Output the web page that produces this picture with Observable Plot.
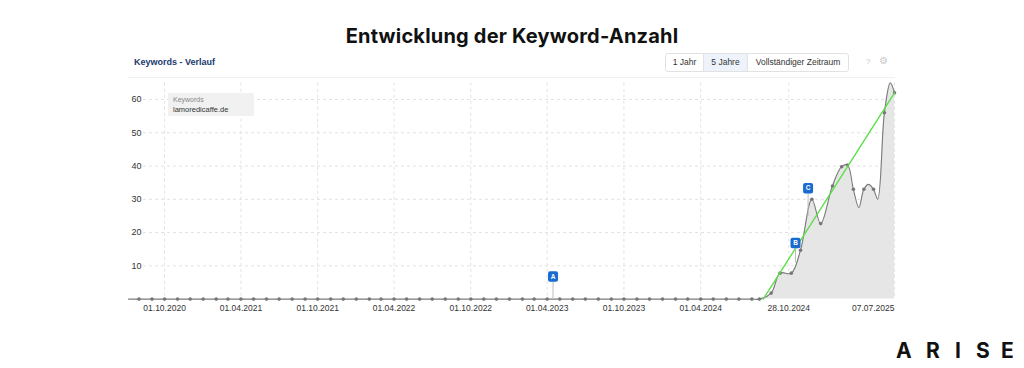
<!DOCTYPE html>
<html>
<head>
<meta charset="utf-8">
<script src="https://cdn.jsdelivr.net/npm/d3@7"></script>
<script src="https://cdn.jsdelivr.net/npm/@observablehq/plot@0.6"></script>
<style>
  body { margin: 0; background: #fff; }
  #wrap { position: relative; width: 1024px; height: 368px; overflow: hidden; font-family: "Liberation Sans", Arial, sans-serif; background: #fff; }
  #title { position: absolute; left: 0; width: 1024px; top: 25px; text-align: center; font-family: Inter, sans-serif; font-weight: 700; font-size: 20px; line-height: 22px; color: #111; letter-spacing: 0.2px; }
  #chart { position: absolute; left: 0; top: 0; }
  #head { position: absolute; left: 134px; top: 57px; font-size: 9px; font-weight: 700; color: #203a6e; line-height: 11px; }
  #sep { position: absolute; left: 128px; top: 77px; width: 767px; height: 1px; background: #f0f0f0; }
  #btns { position: absolute; left: 665px; top: 53px; height: 17px; border: 1px solid #e2e2e2; border-radius: 3px; display: flex; font-size: 8.5px; color: #333; line-height: 17px; overflow: hidden; }
  #btns div { text-align: center; }
  #btns .sel { background: #eef3fb; border-left: 1px solid #e2e2e2; border-right: 1px solid #e2e2e2; }
  #help { position: absolute; left: 866px; top: 57px; font-size: 8px; color: #c8c8c8; }
  #gear { position: absolute; left: 879px; top: 55px; font-size: 10px; color: #c8c8c8; }
  #legend { position: absolute; left: 168px; top: 92.5px; width: 86px; height: 23.5px; background: #f1f1f1; border-radius: 2px; }
  #legend .a { position: absolute; left: 5px; top: 3px; font-size: 7px; color: #888; }
  #legend .b { position: absolute; left: 5px; top: 12.5px; font-size: 7.5px; color: #333; }
  .logo { position: absolute; top: 339px; font-family: Inter, sans-serif; font-weight: 700; font-size: 21px; color: #111; line-height: 24px; }
</style>
</head>
<body>
<div id="wrap">
  <div id="chart"></div>
  <div id="title">Entwicklung der Keyword-Anzahl</div>
  <div id="head">Keywords - Verlauf</div>
  <div id="sep"></div>
  <div id="btns">
    <div style="width:37px">1 Jahr</div>
    <div class="sel" style="width:43px">5 Jahre</div>
    <div style="width:100px">Vollständiger Zeitraum</div>
  </div>
  <div id="help">?</div>
  <div id="gear">⚙</div>
  <div id="legend"><div class="a">Keywords</div><div class="b">lamoredicaffe.de</div></div>
  <span class="logo" style="left:896px">A</span>
  <span class="logo" style="left:926px">R</span>
  <span class="logo" style="left:955px">I</span>
  <span class="logo" style="left:976px">S</span>
  <span class="logo" style="left:1001px">E</span>
</div>
<script>
// ---- data ----
const domainStart = "2020-07-07";
const domainEnd = "2025-07-07";

const dates = [
  "2020-07-07",
  "2020-08-01","2020-09-01","2020-10-01","2020-11-01","2020-12-01",
  "2021-01-01","2021-02-01","2021-03-01","2021-04-01","2021-05-01","2021-06-01",
  "2021-07-01","2021-08-01","2021-09-01","2021-10-01","2021-11-01","2021-12-01",
  "2022-01-01","2022-02-01","2022-03-01","2022-04-01","2022-05-01","2022-06-01",
  "2022-07-01","2022-08-01","2022-09-01","2022-10-01","2022-11-01","2022-12-01",
  "2023-01-01","2023-02-01","2023-03-01","2023-04-01","2023-05-01","2023-06-01",
  "2023-07-01","2023-08-01","2023-09-01","2023-10-01","2023-11-01","2023-12-01",
  "2024-01-01","2024-02-01","2024-03-01","2024-04-01","2024-05-01","2024-06-01",
  "2024-07-01","2024-08-01","2024-08-19",
  "2024-09-16","2024-10-07","2024-11-03","2024-11-25","2024-12-22",
  "2025-01-12","2025-02-09","2025-03-03","2025-03-17","2025-03-31",
  "2025-04-13","2025-04-25","2025-05-06","2025-05-18","2025-05-28",
  "2025-06-13","2025-06-27","2025-07-07"
];
const keywords = [
  0,
  0,0,0,0,0,
  0,0,0,0,0,0,
  0,0,0,0,0,0,
  0,0,0,0,0,0,
  0,0,0,0,0,0,
  0,0,0,0,0,0,
  0,0,0,0,0,0,
  0,0,0,0,0,0,
  0,0,0,
  1.8,7.8,7.8,14.7,30,
  22.7,34,39.8,40.3,33,
  27.5,33,34.5,33,30,
  56,65,62
];
// 1 = point marker drawn
const marker = [
  0,
  1,1,1,1,1,
  1,1,1,1,1,1,
  1,1,1,1,1,1,
  1,1,1,1,1,1,
  1,1,1,1,1,1,
  1,1,1,1,1,1,
  1,1,1,1,1,1,
  1,1,1,1,1,1,
  1,1,1,
  1,1,1,1,1,
  1,1,1,1,1,
  0,1,0,1,0,
  1,0,1
];

const trendDates = ["2024-08-28", "2025-07-07"];
const trendValues = [0, 62];

const flagNames = ["A", "B", "C"];
const flagDates = ["2023-04-15", "2024-11-13", "2024-12-13"];
const flagBox = [6.8, 16.9, 33.3];
const flagBase = [0, 11, 25];

const yTicks = [10, 20, 30, 40, 50, 60];
const xTickDates = ["2020-10-01","2021-04-01","2021-10-01","2022-04-01","2022-10-01",
                    "2023-04-01","2023-10-01","2024-04-01","2024-10-28","2025-07-07"];
const xTickLabels = ["01.10.2020","01.04.2021","01.10.2021","01.04.2022","01.10.2022",
                     "01.04.2023","01.10.2023","01.04.2024","28.10.2024","07.07.2025"];

// ---- build ----
const parse = d3.utcParse("%Y-%m-%d");
const series = dates.map((d, i) => ({date: parse(d), value: keywords[i], dot: marker[i]}));
const trend = trendDates.map((d, i) => ({date: parse(d), value: trendValues[i]}));
const flags = flagNames.map((n, i) => ({name: n, date: parse(flagDates[i]), box: flagBox[i], base: flagBase[i]}));
const xTicks = xTickDates.map((d, i) => ({date: parse(d), label: xTickLabels[i]}));

const roundedSquare = {
  draw(context, size) {
    const r = Math.sqrt(size / Math.PI);
    const w = r, h = r * 1.05, c = 2;
    context.moveTo(-w + c, -h);
    context.lineTo(w - c, -h);
    context.arcTo(w, -h, w, -h + c, c);
    context.lineTo(w, h - c);
    context.arcTo(w, h, w - c, h, c);
    context.lineTo(-w + c, h);
    context.arcTo(-w, h, -w, h - c, c);
    context.lineTo(-w, -h + c);
    context.arcTo(-w, -h, -w + c, -h, c);
    context.closePath();
  }
};

const H = 330;
const chart = Plot.plot({
  width: 1024,
  height: H,
  marginLeft: 128,
  marginRight: 130,
  marginTop: 65.74,
  marginBottom: H - 298.6,
  x: {type: "utc", domain: [parse(domainStart), parse(domainEnd)], axis: null},
  y: {domain: [0, 70], axis: null},
  style: {fontFamily: "'Liberation Sans', Arial, sans-serif", fontSize: "8.5px", color: "#333", background: "transparent", overflow: "visible"},
  marks: [
    Plot.ruleY(yTicks, {y: d => d, stroke: "#e2e2e2", strokeDasharray: "3,3", insetLeft: 15}),
    Plot.ruleX(xTicks, {x: "date", stroke: "#e2e2e2", strokeDasharray: "3,3", insetTop: 17}),
    Plot.areaY(series, {x: "date", y: "value", curve: "catmull-rom", fill: "#e6e6e6"}),
    Plot.line(series, {x: "date", y: "value", curve: "catmull-rom", stroke: "#7a7a7a", strokeWidth: 1.1}),
    Plot.dot(series.filter(d => d.dot), {x: "date", y: "value", r: 1.8, fill: "#777"}),
    Plot.line(trend, {x: "date", y: "value", stroke: "#5de04a", strokeWidth: 1.4}),
    Plot.link(flags, {x1: "date", x2: "date", y1: "base", y2: "box", stroke: "#bdbdbd", strokeWidth: 1}),
    Plot.dot(flags, {x: "date", y: "box", symbol: roundedSquare, r: 5, fill: "#1a6bd0"}),
    Plot.text(flags, {x: "date", y: "box", text: "name", fill: "#fff", fontWeight: "bold", fontSize: 6.5}),
    Plot.text(yTicks, {y: d => d, frameAnchor: "left", dx: 13, textAnchor: "end", fill: "#333", fontSize: 9}),
    Plot.text(xTicks.slice(0, -1), {x: "date", text: "label", frameAnchor: "bottom", dy: 11.5, fill: "#333", fontSize: 8.5}),
    Plot.text(xTicks.slice(-1), {x: "date", text: "label", frameAnchor: "bottom", dy: 11.5, textAnchor: "end", fill: "#333", fontSize: 8.5})
  ]
});
document.getElementById("chart").appendChild(chart);
</script>
</body>
</html>
